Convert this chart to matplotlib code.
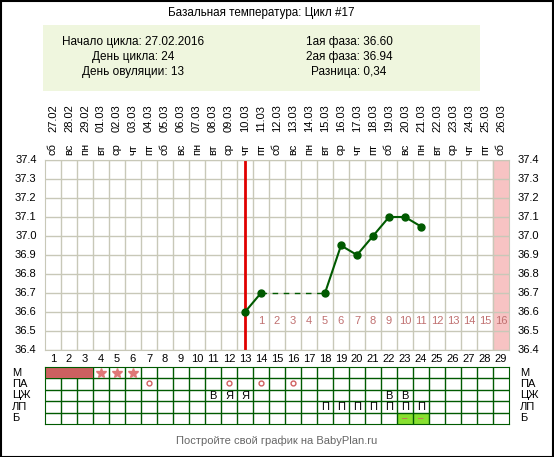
import matplotlib.pyplot as plt
import matplotlib.patches as mpatches

plt.rcParams['font.family'] = ['Liberation Sans', 'DejaVu Sans']

W, H = 554, 457

days = list(range(1, 30))
dates = ["27.02", "28.02", "29.02", "01.03", "02.03", "03.03", "04.03", "05.03",
         "06.03", "07.03", "08.03", "09.03", "10.03", "11.03", "12.03", "13.03",
         "14.03", "15.03", "16.03", "17.03", "18.03", "19.03", "20.03", "21.03",
         "22.03", "23.03", "24.03", "25.03", "26.03"]
weekdays = ["сб", "вс", "пн", "вт", "ср", "чт", "пт"] * 5

# measured temperatures (day of cycle -> temp)
solid1_days = [13, 14]
solid1_temps = [36.60, 36.70]
gap_days = [14, 18]
gap_temps = [36.70, 36.70]
solid2_days = [18, 19, 20, 21, 22, 23, 24]
solid2_temps = [36.70, 36.95, 36.90, 37.00, 37.10, 37.10, 37.05]

ovulation_day = 13
today = 29

# table rows
row_names = ["М", "ПА", "ЦЖ", "ЛП", "Б"]
mens_days = [1, 2, 3]
spot_days = [4, 5, 6]
pa_days = [7, 12, 14, 16]
cz_marks = {11: "В", 12: "Я", 13: "Я", 22: "В", 23: "В"}
lp_days = [18, 19, 20, 21, 22, 23, 24]
b_days = [23, 24]

fig = plt.figure(figsize=(W / 100, H / 100), dpi=100)
fig.patch.set_facecolor("white")


def fx(px):
    return px / W


def fy(py):
    return 1 - py / H


# outer border
fig.patches.append(mpatches.Rectangle((0.5 / W, 0.5 / H), 1 - 1.5 / W, 1 - 1.5 / H,
                                      transform=fig.transFigure, fill=False,
                                      edgecolor="black", linewidth=1.5))

# header
fig.text(fx(261), fy(13), "Базальная температура: Цикл #17", ha="center", va="center",
         fontsize=8.4)
fig.patches.append(mpatches.Rectangle((fx(43), fy(91)), fx(480 - 43), (91 - 25) / H,
                                      transform=fig.transFigure, facecolor="#eff6de",
                                      edgecolor="none"))
left_lines = ["Начало цикла: 27.02.2016", "День цикла: 24", "День овуляции: 13"]
right_lines = ["1ая фаза: 36.60", "2ая фаза: 36.94", "Разница: 0,34"]
for i, (a, b) in enumerate(zip(left_lines, right_lines)):
    y = fy(42 + i * 15)
    fig.text(fx(133), y, a, ha="center", va="center", fontsize=8.5)
    fig.text(fx(349), y, b, ha="center", va="center", fontsize=8.5)

# main chart
ax = fig.add_axes([fx(45), fy(350), fx(509 - 45), (350 - 160) / H])
ax.set_xlim(0.5, 29.5)
ax.set_ylim(36.4, 37.4)
ax.set_xticks([d + 0.5 for d in days[:-1]])
ax.set_yticks([36.4 + 0.1 * i for i in range(11)])
ax.grid(True, color="#c8c8b8", linewidth=1)
ax.tick_params(length=0, labelbottom=False, labelleft=False)
for s in ax.spines.values():
    s.set_color("#c8c8b8")
ax.set_axisbelow(True)

ax.axvspan(today - 0.5, today + 0.5, color="#f7c3c3", zorder=0.5)
ax.axvline(ovulation_day, color="#e00000", linewidth=2, zorder=2)

line_kw = dict(color="#005a00", linewidth=1.5, zorder=3)
ax.plot(solid1_days, solid1_temps, marker="o", markersize=5, **line_kw)
ax.plot(gap_days, gap_temps, linestyle=(0, (4, 4)), linewidth=1, color="#005a00", zorder=3)
ax.plot(solid2_days, solid2_temps, marker="o", markersize=5, **line_kw)

for n, d in enumerate(range(ovulation_day + 1, today + 1), start=1):
    ax.text(d, 36.555, str(n), ha="center", va="center", fontsize=8, color="#c07070")

# y labels both sides
for i in range(11):
    v = 36.4 + 0.1 * i
    ax.annotate(f"{v:.1f}", (0, v), xycoords=("axes fraction", "data"),
                xytext=(-6, 0), textcoords="offset points", ha="right", va="center",
                fontsize=8)
    ax.annotate(f"{v:.1f}", (1, v), xycoords=("axes fraction", "data"),
                xytext=(6, 0), textcoords="offset points", ha="left", va="center",
                fontsize=8)

tr = ax.get_xaxis_transform()
for d, dt, wd in zip(days, dates, weekdays):
    ax.text(d, -0.045, str(d), transform=tr, ha="center", va="center", fontsize=8)
    ax.text(d, 1.147, dt, transform=tr, ha="center", va="bottom", rotation=90, fontsize=8)
    ax.text(d, 1.026, wd, transform=tr, ha="center", va="bottom", rotation=90, fontsize=8)

# table
tx = fig.add_axes([fx(45), fy(424), fx(509 - 45), (424 - 367) / H])
tx.set_xlim(0.5, 29.5)
tx.set_ylim(len(row_names), 0)
tx.set_xticks([d + 0.5 for d in days[:-1]])
tx.set_yticks(range(1, len(row_names)))
tx.grid(True, color="#005a00", linewidth=1)
tx.tick_params(length=0, labelbottom=False, labelleft=False)
for s in tx.spines.values():
    s.set_color("#005a00")
tx.set_axisbelow(True)

for d in mens_days:
    tx.add_patch(mpatches.Rectangle((d - 0.5, 0), 1, 1, facecolor="#cc6060",
                                    edgecolor="none", zorder=2))
tx.plot(spot_days, [0.5] * len(spot_days), linestyle="none", marker="*", markersize=7,
        color="#e07878")
tx.plot(pa_days, [1.4] * len(pa_days), linestyle="none", marker="o", markersize=3.5,
        markerfacecolor="none", markeredgecolor="#d06060", markeredgewidth=1)
for d, m in cz_marks.items():
    tx.text(d, 2.55, m, ha="center", va="center", fontsize=8)
for d in lp_days:
    tx.text(d, 3.55, "П", ha="center", va="center", fontsize=8)
for d in b_days:
    tx.add_patch(mpatches.Rectangle((d - 0.5, 4), 1, 1, facecolor="#88e030",
                                    edgecolor="none", zorder=0.5))
    tx.text(d, 4.5, "–", ha="center", va="center", fontsize=7, color="#d06060")

for i, name in enumerate(row_names):
    tx.annotate(name, (0, i + 0.5), xycoords=("axes fraction", "data"),
                xytext=(-24, 0), textcoords="offset points", ha="left", va="center",
                fontsize=8)
    tx.annotate(name, (1, i + 0.5), xycoords=("axes fraction", "data"),
                xytext=(8, 0), textcoords="offset points", ha="left", va="center",
                fontsize=8)

fig.text(fx(277), fy(441), "Постройте свой график на BabyPlan.ru", ha="center",
         va="center", fontsize=8, color="#666666")

fig.savefig("out.png", dpi=100)
